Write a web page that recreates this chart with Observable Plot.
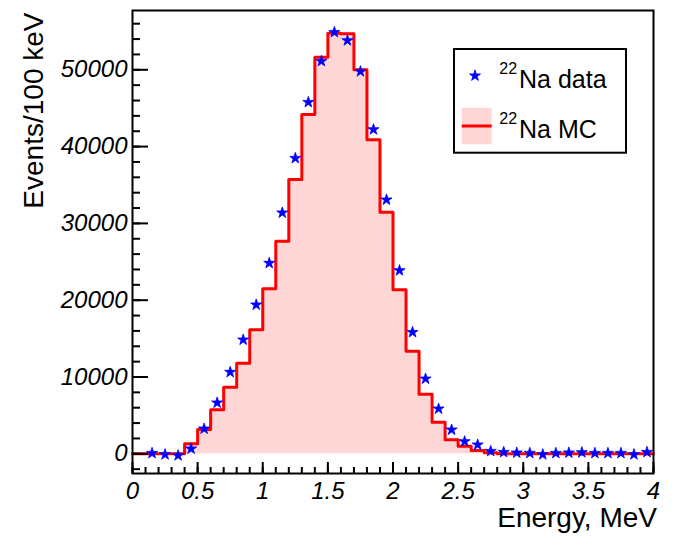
<!DOCTYPE html>
<html><head><meta charset="utf-8">
<script src="https://cdn.jsdelivr.net/npm/d3@7"></script>
<script src="https://cdn.jsdelivr.net/npm/@observablehq/plot@0.6"></script>
<style>
body{margin:0;background:#fff;}
#wrap{position:relative;width:674px;height:536px;}
#legend{position:absolute;left:453px;top:48px;}
text.ital{font-style:italic !important;}
</style></head><body><div id="wrap"></div>
<script>
// MC histogram: bin low edges (MeV) and counts per 100 keV bin
const mcBinLow = [0.0,0.1,0.2,0.3,0.4,0.5,0.6,0.7,0.8,0.9,1.0,1.1,1.2,1.3,1.4,1.5,1.6,1.7,1.8,1.9,2.0,2.1,2.2,2.3,2.4,2.5,2.6,2.7,2.8,2.9,3.0,3.1,3.2,3.3,3.4,3.5,3.6,3.7,3.8,3.9];
const mcCounts = [0,0,0,0,1300,3160,5730,8670,11800,16140,21480,27680,35710,44180,51640,54770,54680,50000,40880,31460,21370,13340,7750,4120,1820,990,430,130,0,0,0,0,0,0,0,0,0,0,0,0];
const binWidth = 0.1;
// Data points: bin centres (MeV) and counts
const dataEnergy = [0.15,0.25,0.35,0.45,0.55,0.65,0.75,0.85,0.95,1.05,1.15,1.25,1.35,1.45,1.55,1.65,1.75,1.85,1.95,2.05,2.15,2.25,2.35,2.45,2.55,2.65,2.75,2.85,2.95,3.05,3.15,3.25,3.35,3.45,3.55,3.65,3.75,3.85,3.95];
const dataCounts = [80,-90,-220,650,3250,6640,10630,14840,19400,24820,31380,38490,45780,51120,54890,53810,49780,42220,33070,23870,15830,9760,5860,3120,1600,1170,340,210,130,80,-90,80,130,170,80,80,80,-90,210];
// Axis ticks
const xMajorTicks = [0,0.5,1,1.5,2,2.5,3,3.5,4];
const xTickLabels = ["0","0.5","1","1.5","2","2.5","3","3.5","4"];
const xMinorTicks = d3.range(0, 41).map(i => i / 10);
const yMajorTicks = [0,10000,20000,30000,40000,50000];
const yTickLabels = ["0","10000","20000","30000","40000","50000"];
const yMinorTicks = d3.range(-1, 29).map(i => i * 2000);
const xTitle = "Energy, MeV";
const yTitle = "Events/100 keV";
const legendLabels = ["Na data", "Na MC"];
const legendIsotope = "22";

const mcSteps = mcBinLow.map((x, i) => ({x, y: mcCounts[i]}))
  .concat([{x: mcBinLow[mcBinLow.length - 1] + binWidth, y: mcCounts[mcCounts.length - 1]}]);
const points = dataEnergy.map((x, i) => ({x, y: dataCounts[i]}));

const font = "Liberation Sans, Arial, Helvetica, sans-serif";
const chart = Plot.plot({
  width: 674, height: 536,
  marginLeft: 132, marginRight: 21, marginTop: 10, marginBottom: 63,
  style: {fontFamily: font, background: "white", color: "black"},
  x: {domain: [0, 4]},
  y: {domain: [-2565, 57720]},
  marks: [
    Plot.areaY(mcSteps, {x: "x", y: "y", curve: "step-after", fill: "#ff0000", fillOpacity: 0.16}),
    Plot.line(mcSteps, {x: "x", y: "y", curve: "step-after", stroke: "#ff0000", strokeWidth: 3}),
    Plot.dot(points, {x: "x", y: "y", symbol: "star", r: 3.5, fill: "#0000ff", stroke: "#0000ff", strokeWidth: 0.8}),
    Plot.axisY({ticks: yMinorTicks, tickSize: -8, text: null, label: null, strokeWidth: 2}),
    Plot.axisY({ticks: yMajorTicks, tickSize: -16, text: null, label: null, strokeWidth: 2}),
    Plot.axisY({ticks: yMajorTicks, tickSize: 0, tickPadding: 5, label: null, fontSize: 24,
      tickFormat: d => yTickLabels[yMajorTicks.indexOf(d)]}),
    Plot.axisX({ticks: xMinorTicks, tickSize: -6, text: null, label: null, strokeWidth: 2}),
    Plot.axisX({ticks: xMajorTicks, tickSize: -11, text: null, label: null, strokeWidth: 2}),
    Plot.axisX({ticks: xMajorTicks, tickSize: 0, tickPadding: 8, label: null, fontSize: 24,
      tickFormat: d => xTickLabels[xMajorTicks.indexOf(d)]}),
    Plot.frame({stroke: "black", strokeWidth: 2}),
    Plot.text([yTitle], {text: d => d, frameAnchor: "top-left", rotate: -90, textAnchor: "end", dx: -109, dy: 2, fontSize: 28}),
    Plot.text([xTitle], {text: d => d, frameAnchor: "bottom-right", textAnchor: "end", dx: 3.5, dy: 53, fontSize: 28})
  ]
});
const wrap = document.getElementById("wrap");
wrap.appendChild(chart);
// tick labels in italic (as in the reference)
const tickStrings = new Set(xTickLabels.concat(yTickLabels));
d3.select(chart).selectAll("text").each(function() {
  if (tickStrings.has(this.textContent.trim())) {
    this.classList.add("ital");
    this.setAttribute("font-style", "italic");
    this.style.fontStyle = "italic";
  }
});

// Legend box inside plot area
const starPath = d3.symbol(d3.symbolStar, Math.PI * 12)();
const leg = d3.select(wrap).append("svg").attr("id", "legend").attr("width", 176).attr("height", 107)
  .style("font-family", font);
leg.append("rect").attr("x", 1).attr("y", 1).attr("width", 172).attr("height", 103.7)
  .attr("fill", "white").attr("stroke", "black").attr("stroke-width", 2);
leg.append("path").attr("d", starPath).attr("transform", "translate(22,27.7)")
  .attr("fill", "#0000ff").attr("stroke", "#0000ff").attr("stroke-width", 0.8);
leg.append("rect").attr("x", 8.7).attr("y", 59.7).attr("width", 30).attr("height", 36.6)
  .attr("fill", "#ff0000").attr("fill-opacity", 0.16);
leg.append("line").attr("x1", 8.7).attr("x2", 38.7).attr("y1", 78).attr("y2", 78)
  .attr("stroke", "#ff0000").attr("stroke-width", 3);
[[39.7, legendLabels[0]], [89.7, legendLabels[1]]].forEach(([by, lab]) => {
  leg.append("text").attr("x", 46.3).attr("y", by - 13.7).attr("font-size", 16).text(legendIsotope);
  leg.append("text").attr("x", 66).attr("y", by).attr("font-size", 25).text(lab);
});
</script></body></html>
